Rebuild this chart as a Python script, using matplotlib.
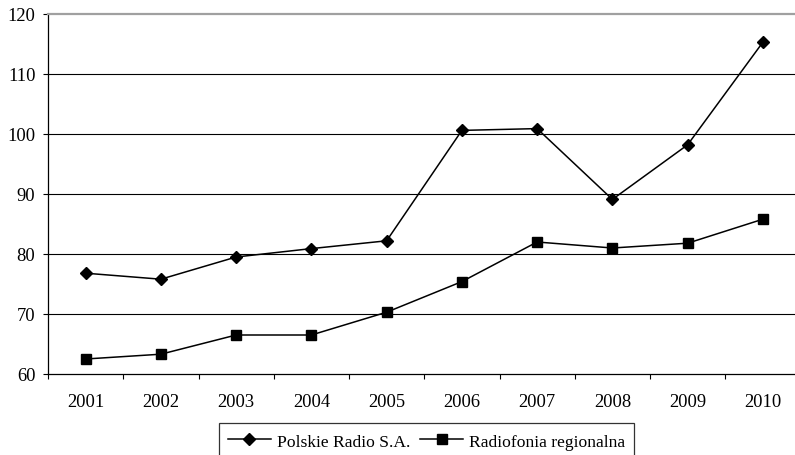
import matplotlib
matplotlib.use("Agg")
import matplotlib.pyplot as plt
from matplotlib.ticker import FixedLocator, NullFormatter, FixedFormatter

years = ["2001", "2002", "2003", "2004", "2005", "2006", "2007", "2008", "2009", "2010"]
polskie_radio = [76.8, 75.8, 79.5, 80.9, 82.2, 100.6, 100.9, 89.1, 98.2, 115.3]
radiofonia_regionalna = [62.5, 63.3, 66.5, 66.5, 70.3, 75.4, 82.0, 81.0, 81.8, 85.8]
y_ticks = [60, 70, 80, 90, 100, 110, 120]

plt.rcParams["font.family"] = ["Liberation Serif", "DejaVu Serif"]
plt.rcParams["font.size"] = 13.3

W, H = 795, 456
fig = plt.figure(figsize=(W / 100, H / 100), dpi=100)
ax = fig.add_axes([48 / W, 1 - 375 / H, 752.5 / W, 360 / H])

x = list(range(len(years)))
ax.plot(x, polskie_radio, color="black", lw=1.1, marker="D", ms=5.9,
        label="Polskie Radio S.A.", zorder=3)
ax.plot(x, radiofonia_regionalna, color="black", lw=1.1, marker="s", ms=6.6,
        label="Radiofonia regionalna", zorder=3)

ax.set_xlim(-0.5, len(years) - 0.5)
ax.set_ylim(y_ticks[0], y_ticks[-1])

# category boundaries carry tick marks, centres carry labels
ax.xaxis.set_major_locator(FixedLocator([i - 0.5 for i in range(len(years) + 1)]))
ax.xaxis.set_major_formatter(NullFormatter())
ax.xaxis.set_minor_locator(FixedLocator(x))
ax.xaxis.set_minor_formatter(FixedFormatter(years))
ax.tick_params(axis="x", which="major", direction="out", length=3.6, width=0.8, color="black")
ax.tick_params(axis="x", which="minor", length=0, pad=14)

ax.set_yticks(y_ticks)
ax.tick_params(axis="y", direction="out", length=3.6, width=0.8, pad=5.5, color="black")

for yv in y_ticks[1:-1]:
    ax.axhline(yv, color="black", lw=0.8, zorder=1)

ax.spines["right"].set_visible(False)
ax.spines["top"].set_color("#a0a0a0")
ax.spines["top"].set_linewidth(1.6)
ax.spines["left"].set_color("black")
ax.spines["left"].set_linewidth(0.9)
ax.spines["bottom"].set_color("black")
ax.spines["bottom"].set_linewidth(0.9)

leg = fig.legend(loc="upper left", bbox_to_anchor=(219 / W, 1 - 424 / H),
                 ncol=2, frameon=True, fancybox=False, shadow=False,
                 handlelength=2.45, handletextpad=0.34, columnspacing=0.6,
                 handleheight=1.0, borderpad=0.5, borderaxespad=0, fontsize=12.6)
leg.get_frame().set_edgecolor("black")
leg.get_frame().set_linewidth(0.9)

fig.savefig("out.png", dpi=100)
